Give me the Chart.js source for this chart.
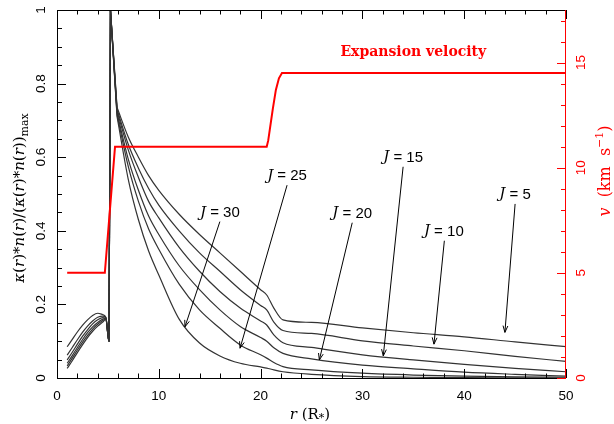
<!DOCTYPE html>
<html>
<head>
<meta charset="utf-8">
<script src="https://cdn.jsdelivr.net/npm/chart.js@4.4.0/dist/chart.umd.min.js"></script>
<style>
  html, body { margin: 0; padding: 0; background: #fff; }
  #wrap { width: 614px; height: 424px; }
</style>
</head>
<body>
<div id="wrap"><canvas id="chart" width="614" height="424"></canvas></div>
<script>
// radius grid in stellar radii, shared by the J curves
const radius = [1, 1.5, 2, 2.5, 3, 3.5, 4, 4.5, 4.8, 5.1, 5.25, 5.9, 7, 8, 9, 10, 12, 14, 16, 18, 20, 20.6, 21.3, 22.2, 25, 30, 35, 40, 45, 50];
const PEAK = 10; // index of the spike in radius

// normalised kappa*n for each J
const curveJ5  = [0.026, 0.047, 0.069, 0.090, 0.110, 0.127, 0.141, 0.152, 0.160, 0.10, 1.0, 0.735, 0.655, 0.60, 0.55, 0.51, 0.445, 0.39, 0.34, 0.29, 0.24, 0.2255, 0.19, 0.158, 0.151, 0.136, 0.123, 0.112, 0.098, 0.085];
const curveJ10 = [0.033, 0.054, 0.076, 0.097, 0.116, 0.133, 0.146, 0.156, 0.161, 0.10, 1.0, 0.73, 0.635, 0.57, 0.515, 0.47, 0.40, 0.34, 0.29, 0.24, 0.197, 0.185, 0.152, 0.129, 0.121, 0.101, 0.087, 0.074, 0.059, 0.045];
const curveJ15 = [0.040, 0.061, 0.083, 0.104, 0.123, 0.139, 0.151, 0.160, 0.162, 0.10, 1.0, 0.725, 0.62, 0.545, 0.48, 0.435, 0.355, 0.29, 0.235, 0.19, 0.155, 0.144, 0.117, 0.096, 0.083, 0.063, 0.049, 0.037, 0.026, 0.017];
const curveJ20 = [0.049, 0.070, 0.092, 0.113, 0.131, 0.147, 0.158, 0.164, 0.163, 0.10, 1.0, 0.72, 0.595, 0.51, 0.44, 0.39, 0.305, 0.24, 0.185, 0.14, 0.11, 0.10, 0.082, 0.067, 0.052, 0.035, 0.025, 0.016, 0.010, 0.005];
const curveJ25 = [0.062, 0.083, 0.104, 0.124, 0.141, 0.155, 0.165, 0.168, 0.164, 0.10, 1.0, 0.715, 0.575, 0.48, 0.405, 0.35, 0.255, 0.185, 0.135, 0.09, 0.063, 0.054, 0.042, 0.031, 0.022, 0.013, 0.008, 0.005, 0.003, 0.002];
const curveJ30 = [0.085, 0.105, 0.125, 0.143, 0.158, 0.170, 0.176, 0.172, 0.165, 0.10, 1.0, 0.71, 0.54, 0.43, 0.345, 0.28, 0.16, 0.095, 0.06, 0.04, 0.03, 0.027, 0.022, 0.017, 0.01, 0.004, 0.002, 0.001, 0.0005, 0];

// expansion velocity (km/s)
const velRadius = [1, 4.7, 5.7, 20.6, 20.75, 20.9, 21.2, 21.5, 21.8, 22.1, 50];
const velocity  = [5, 5, 11, 11, 11.3, 11.8, 12.8, 13.7, 14.25, 14.5, 14.5];

const xTicks = [0, 10, 20, 30, 40, 50];
const yTicks = [0, 0.2, 0.4, 0.6, 0.8, 1];
const vTicks = [0, 5, 10, 15];

// J labels and arrows, in data units
const labelJ     = [30, 25, 20, 15, 10, 5];
const labelR     = [16.0, 22.6, 29.0, 34.0, 38.0, 45.0];
const labelY     = [0.449, 0.549, 0.447, 0.599, 0.398, 0.499];
const arrowFromR = [16.0, 22.6, 29.0, 34.0, 38.05, 45.0];
const arrowFromY = [0.425, 0.524, 0.422, 0.574, 0.373, 0.473];
const arrowToR   = [12.57, 17.98, 25.77, 32.05, 37.03, 44.0];
const arrowToY   = [0.139, 0.081, 0.049, 0.060, 0.092, 0.124];

const SANS = '"Liberation Sans", Arial, sans-serif';
const SERIF = '"DejaVu Serif", serif';

function pts(xs, ys) {
  return xs.map((x, i) => ({ x: x, y: ys[i] }));
}

// draw a row of text pieces with their own fonts, centred on (x, y)
function drawRuns(ctx, runs, x, y) {
  let total = 0;
  runs.forEach(r => { ctx.font = r.font; r.w = ctx.measureText(r.t).width; total += r.w; });
  let cx = x - total / 2;
  ctx.textAlign = 'left';
  ctx.textBaseline = 'middle';
  runs.forEach(r => {
    ctx.font = r.font;
    ctx.fillText(r.t, cx, y + (r.dy || 0));
    cx += r.w;
  });
}

const frame = {
  id: 'frame',
  afterDraw(chart) {
    const ctx = chart.ctx;
    const a = chart.chartArea;
    const xs = chart.scales.x, ys = chart.scales.y, vs = chart.scales.y2;
    ctx.save();
    ctx.lineWidth = 1;

    // frame: black left/bottom/top, red right
    ctx.strokeStyle = '#000';
    ctx.beginPath();
    ctx.moveTo(a.right, a.top + 0.5); ctx.lineTo(a.left + 0.5, a.top + 0.5);
    ctx.lineTo(a.left + 0.5, a.bottom + 0.5); ctx.lineTo(a.right, a.bottom + 0.5);
    ctx.stroke();

    // x ticks, bottom and top
    ctx.beginPath();
    for (let v = 0; v <= 50; v += 2) {
      const px = Math.round(xs.getPixelForValue(v)) + 0.5;
      const len = v % 10 === 0 ? 9 : 4.5;
      ctx.moveTo(px, a.bottom); ctx.lineTo(px, a.bottom - len);
      ctx.moveTo(px, a.top); ctx.lineTo(px, a.top + len);
    }
    // left ticks
    for (let k = 0; k <= 20; k++) {
      const py = Math.round(ys.getPixelForValue(k * 0.05)) + 0.5;
      const len = k % 4 === 0 ? 9 : 5;
      ctx.moveTo(a.left, py); ctx.lineTo(a.left + len, py);
    }
    ctx.stroke();

    // right axis in red
    ctx.strokeStyle = '#ff0000';
    ctx.beginPath();
    ctx.moveTo(a.right - 0.5, a.top); ctx.lineTo(a.right - 0.5, a.bottom + 1);
    for (let v = 0; v <= 17; v++) {
      const py = Math.round(vs.getPixelForValue(v)) + 0.5;
      const len = v % 5 === 0 ? 9 : 5;
      ctx.moveTo(a.right, py); ctx.lineTo(a.right - len, py);
    }
    ctx.stroke();

    // tick labels
    ctx.fillStyle = '#000';
    ctx.font = '13.5px ' + SANS;
    ctx.textAlign = 'center';
    ctx.textBaseline = 'middle';
    xTicks.forEach(v => ctx.fillText(String(v), xs.getPixelForValue(v), 396));
    yTicks.forEach(v => {
      ctx.save();
      ctx.translate(41, ys.getPixelForValue(v));
      ctx.rotate(-Math.PI / 2);
      ctx.fillText(String(v), 0, 0);
      ctx.restore();
    });
    ctx.fillStyle = '#ff0000';
    vTicks.forEach(v => {
      ctx.save();
      ctx.translate(581, vs.getPixelForValue(v));
      ctx.rotate(-Math.PI / 2);
      ctx.fillText(String(v), 0, 0);
      ctx.restore();
    });

    // axis titles
    const it = 'italic 15px ' + SERIF, rm = '15px ' + SERIF, sm = '11px ' + SERIF;
    ctx.fillStyle = '#000';
    drawRuns(ctx, [
      { t: 'r', font: it }, { t: ' (R', font: rm }, { t: '*', font: sm, dy: 3 }, { t: ')', font: rm }
    ], 310, 415);

    ctx.save();
    ctx.translate(20, 198);
    ctx.rotate(-Math.PI / 2);
    drawRuns(ctx, [
      { t: 'κ', font: it }, { t: '(', font: rm }, { t: 'r', font: it }, { t: ')*', font: rm },
      { t: 'n', font: it }, { t: '(', font: rm }, { t: 'r', font: it }, { t: ')/(', font: rm },
      { t: 'κ', font: it }, { t: '(', font: rm }, { t: 'r', font: it }, { t: ')*', font: rm },
      { t: 'n', font: it }, { t: '(', font: rm }, { t: 'r', font: it }, { t: '))', font: rm },
      { t: 'max', font: sm, dy: 5 }
    ], 0, 0);
    ctx.restore();

    ctx.fillStyle = '#ff0000';
    ctx.save();
    ctx.translate(606, 171);
    ctx.rotate(-Math.PI / 2);
    drawRuns(ctx, [
      { t: 'v', font: 'italic 16px ' + SERIF }, { t: '  (km  s', font: '16px ' + SERIF },
      { t: '\u22121', font: '11px ' + SERIF, dy: -6 }, { t: ')', font: '16px ' + SERIF }
    ], 0, 0);
    ctx.restore();

    // curve label
    ctx.font = 'bold 14px ' + SERIF;
    ctx.textAlign = 'center';
    ctx.fillText('Expansion velocity', xs.getPixelForValue(35), vs.getPixelForValue(15.5));

    // J labels with arrows
    ctx.fillStyle = '#000';
    ctx.strokeStyle = '#000';
    labelJ.forEach((j, i) => {
      drawRuns(ctx, [
        { t: 'J', font: 'italic 15px ' + SERIF }, { t: ' = ' + j, font: '15px ' + SANS }
      ], xs.getPixelForValue(labelR[i]), ys.getPixelForValue(labelY[i]));
      const x0 = xs.getPixelForValue(arrowFromR[i]), y0 = ys.getPixelForValue(arrowFromY[i]);
      const x1 = xs.getPixelForValue(arrowToR[i]), y1 = ys.getPixelForValue(arrowToY[i]);
      const ang = Math.atan2(y1 - y0, x1 - x0);
      ctx.beginPath();
      ctx.moveTo(x0, y0); ctx.lineTo(x1, y1);
      ctx.moveTo(x1 - 7 * Math.cos(ang - 0.35), y1 - 7 * Math.sin(ang - 0.35));
      ctx.lineTo(x1, y1);
      ctx.lineTo(x1 - 7 * Math.cos(ang + 0.35), y1 - 7 * Math.sin(ang + 0.35));
      ctx.stroke();
    });
    ctx.restore();
  }
};

const curves = [curveJ5, curveJ10, curveJ15, curveJ20, curveJ25, curveJ30];
const datasets = [{
  data: pts(velRadius, velocity),
  yAxisID: 'y2',
  borderColor: '#ff0000',
  borderWidth: 2,
  pointRadius: 0,
  tension: 0
}];
// each curve is split around the spike: smooth inner part, straight fall, smooth outer part
const parts = [[0, PEAK + 1], [PEAK, PEAK + 2], [PEAK + 1, radius.length]];
curves.forEach(c => {
  parts.forEach(part => {
    datasets.push({
      data: pts(radius.slice(part[0], part[1]), c.slice(part[0], part[1])),
      yAxisID: 'y',
      borderColor: '#333333',
      borderWidth: 1.2,
      pointRadius: 0,
      cubicInterpolationMode: 'monotone'
    });
  });
});

new Chart(document.getElementById('chart'), {
  type: 'line',
  data: { datasets: datasets },
  options: {
    responsive: false,
    animation: false,
    devicePixelRatio: 1,
    layout: { padding: { left: 57, right: 48, top: 10, bottom: 46 } },
    plugins: { legend: { display: false }, tooltip: { enabled: false } },
    scales: {
      x: { type: 'linear', min: 0, max: 50, display: false },
      y: { min: 0, max: 1, display: false },
      y2: { min: 0, max: 17.5, display: false }
    }
  },
  plugins: [frame]
});
</script>
</body>
</html>
